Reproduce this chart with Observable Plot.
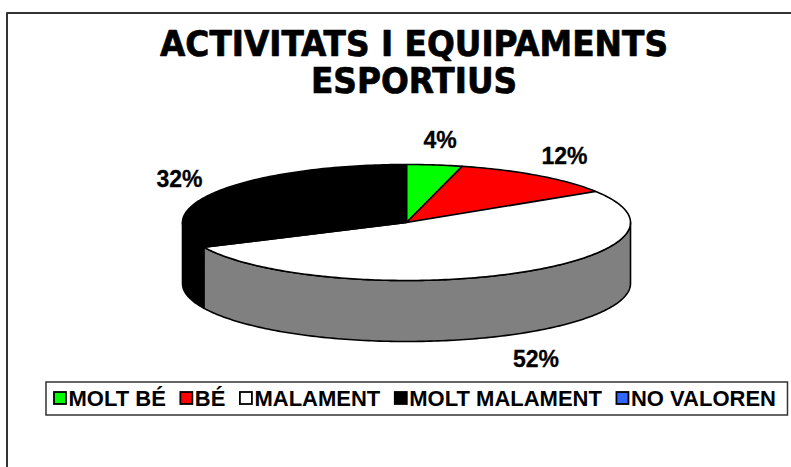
<!DOCTYPE html>
<html>
<head>
<meta charset="utf-8">
<script src="https://cdn.jsdelivr.net/npm/d3@7"></script>
<script src="https://cdn.jsdelivr.net/npm/@observablehq/plot@0.6"></script>
<style>
  html, body { margin: 0; padding: 0; background: #fff; overflow: hidden; }
  svg { display: block; }
</style>
</head>
<body>
<div id="chart"></div>
<script>
// ---- data ----
const categories = ["MOLT BÉ", "BÉ", "MALAMENT", "MOLT MALAMENT", "NO VALOREN"];
const values = [4, 12, 52, 32, 0];
const colors = ["#00FF00", "#FF0000", "#FFFFFF", "#000000", "#3366FF"];
const sideColors = ["#008000", "#800000", "#808080", "#000000", "#1A3380"];
const titleLines = ["ACTIVITATS I EQUIPAMENTS", "ESPORTIUS"];

// ---- layout ----
const W = 791, H = 467;
const geo = {cx: 406, cy: 222, rx: 224, ry: 58, depth: 61};
const labelFont = "Liberation Sans, Arial, sans-serif";
const legendFontSize = 22;

const data = categories.map((c, i) => ({category: c, value: values[i], color: colors[i], side: sideColors[i]}));
const arcs = d3.pie().sort(null).value(d => d.value).startAngle(0).endAngle(2 * Math.PI)(data);

const pt = (a, dy = 0) => ({x: geo.cx + geo.rx * Math.sin(a), y: geo.cy - geo.ry * Math.cos(a) + dy});
function arcPts(a0, a1, dy) {
  const n = Math.max(2, Math.ceil((a1 - a0) / (Math.PI / 180)));
  return d3.range(n + 1).map(i => pt(a0 + (a1 - a0) * i / n, dy));
}

const polyOpts = (fill) => ({x: "x", y: "y", fill, stroke: "black", strokeWidth: 1.6, strokeLinejoin: "round", curve: "linear-closed"});

// side walls (front half only)
const sideMarks = arcs.filter(a => a.value > 0).flatMap(a => {
  const s = Math.max(a.startAngle, Math.PI / 2), e = Math.min(a.endAngle, 3 * Math.PI / 2);
  if (s >= e) return [];
  const pts = [...arcPts(s, e, 0), ...arcPts(s, e, geo.depth).reverse()];
  return [Plot.line(pts, polyOpts(a.data.side))];
});

// top faces
const topMarks = arcs.filter(a => a.value > 0).map(a => {
  const pts = [{x: geo.cx, y: geo.cy}, ...arcPts(a.startAngle, a.endAngle, 0)];
  return Plot.line(pts, polyOpts(a.data.color));
});

// labels
const labels = arcs.filter(a => a.value > 0).map(a => {
  const m = (a.startAngle + a.endAngle) / 2;
  return {
    text: a.value + "%",
    x: geo.cx + 1.2 * geo.rx * Math.sin(m),
    y: geo.cy - 1.45 * geo.ry * Math.cos(m) + (Math.cos(m) < 0 ? geo.depth : 0) + 2
  };
});

// legend layout from measured text widths
const ctx = document.createElement("canvas").getContext("2d");
ctx.font = `bold ${legendFontSize}px "Liberation Sans"`;
const sq = 12, legY = 398;
let cursor = 54;
const legend = data.map(d => {
  const w = ctx.measureText(d.category).width;
  const item = {category: d.category, color: d.color, x1: cursor, x2: cursor + sq, y1: legY - 6, y2: legY + 6, tx: cursor + sq + 2, end: cursor + sq + 2 + w};
  cursor = item.end + 15;
  return item;
});
const legendBox = [{x1: legend[0].x1 - 8, x2: legend[legend.length - 1].end + 12, y1: 382, y2: 415}];

const titleData = titleLines.map((t, i) => ({text: t, x: 413.5, y: 44 + i * 37}));
const frameEdge = {left: 6.5, top: 12.5};

const chart = Plot.plot({
  width: W, height: H,
  margin: 0,
  x: {domain: [0, W], range: [0, W], axis: null},
  y: {domain: [0, H], range: [0, H], axis: null},
  style: {background: "#fff"},
  marks: [
    Plot.ruleY([frameEdge.top], {x1: frameEdge.left, x2: W, stroke: "#333", strokeWidth: 2}),
    Plot.ruleX([frameEdge.left], {y1: frameEdge.top, y2: H, stroke: "#333", strokeWidth: 2}),
    Plot.text(titleData, {x: "x", y: "y", text: "text", fontSize: 36, fontWeight: "bold",
      fontFamily: "'DejaVu Sans Condensed', 'DejaVu Sans', sans-serif", fill: "black", stroke: "black", strokeWidth: 0.7,
      textAnchor: "middle", lineAnchor: "middle", className: "title-text"}),
    ...sideMarks,
    ...topMarks,
    Plot.text(labels, {x: "x", y: "y", text: "text", fontSize: 23, fontWeight: "bold", fontFamily: labelFont, fill: "black", stroke: "black", strokeWidth: 0.3, textAnchor: "middle", lineAnchor: "middle"}),
    Plot.rect(legendBox, {x1: "x1", x2: "x2", y1: "y1", y2: "y2", fill: "white", stroke: "#333", strokeWidth: 1.5}),
    Plot.rect(legend, {x1: "x1", x2: "x2", y1: "y1", y2: "y2", fill: "color", stroke: "black", strokeWidth: 1.8}),
    Plot.text(legend, {x: "tx", y: () => legY, text: "category", fontSize: legendFontSize, fontWeight: "bold", fontFamily: labelFont, fill: "black", textAnchor: "start", lineAnchor: "middle"})
  ]
});
document.getElementById("chart").appendChild(chart);
// stretch the title to the reference width
const titleTexts = chart.querySelectorAll("g.title-text text");
if (titleTexts.length) {
  titleTexts.forEach(t => t.style.fontStretch = "condensed");
  const w0 = titleTexts[0].getComputedTextLength();
  const ratio = 508 / w0;
  titleTexts.forEach(t => {
    const w = t.getComputedTextLength();
    t.setAttribute("textLength", (w * ratio).toFixed(1));
    t.setAttribute("lengthAdjust", "spacingAndGlyphs");
  });
}
</script>
</body>
</html>
